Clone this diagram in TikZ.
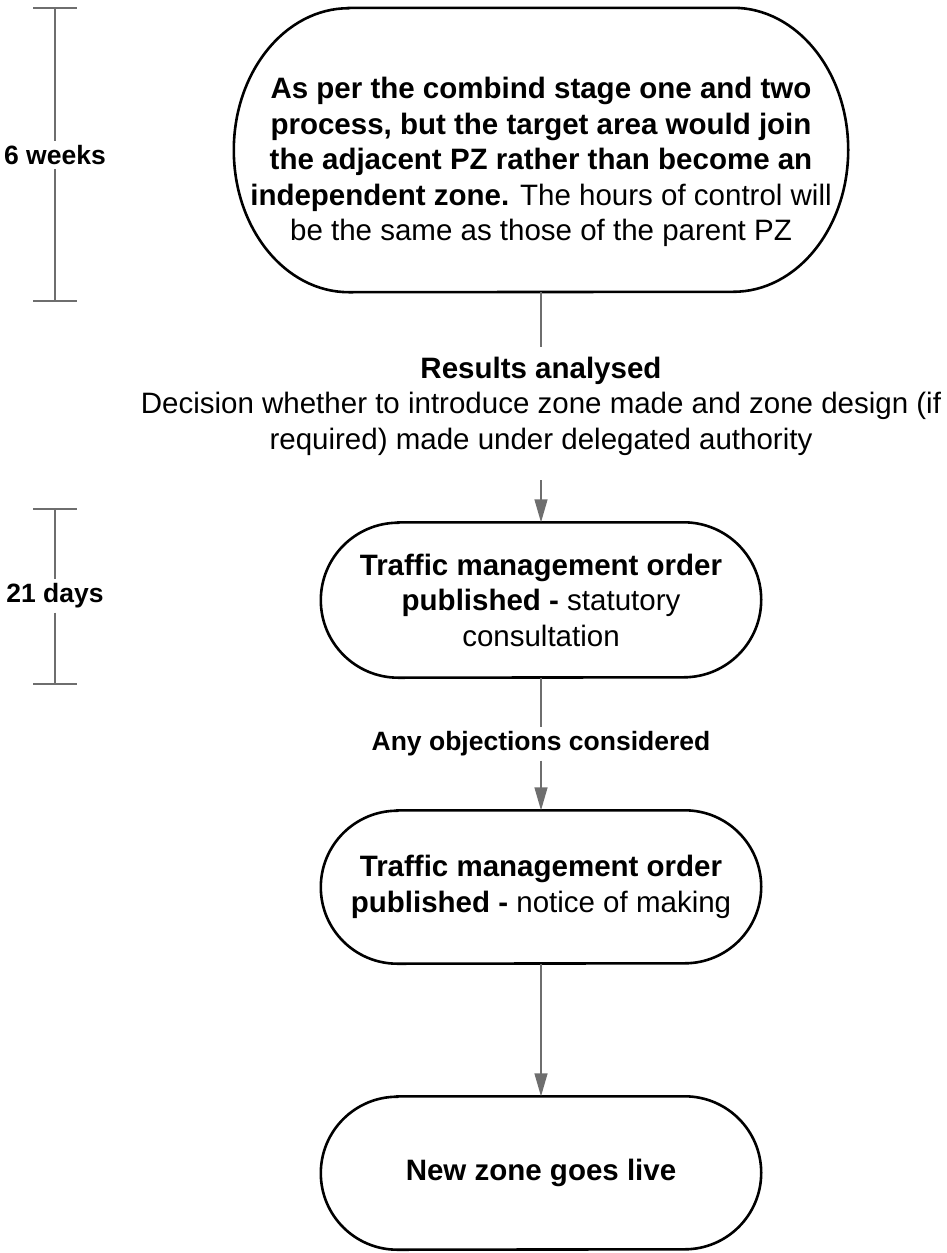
\documentclass[tikz,border=0pt]{standalone}
\usepackage{fontspec}
\setmainfont{Liberation Sans}
\usetikzlibrary{arrows.meta}
\definecolor{linegray}{HTML}{6E6E6E}
\newcommand{\termborder}[3]{%
  \draw[boxline] ([xshift=#2]#1.north west) -- ([xshift=-#2]#1.north east)
    arc[start angle=90,end angle=-90,x radius=#2,y radius=#3]
    -- ([xshift=#2]#1.south west)
    arc[start angle=270,end angle=90,x radius=#2,y radius=#3] -- cycle;}
\begin{document}
\begin{tikzpicture}[x=1pt,y=-1pt,
  boxline/.style={line width=2.6pt,draw=black},
  termfont/.style={font=\fontsize{29.5}{35.5}\selectfont},
  termnode/.style={draw=none,align=center,inner sep=0pt,termfont},
  lbl/.style={draw=none,align=center,inner xsep=0pt,inner ysep=4pt,
    font=\fontsize{26.5}{30}\selectfont\bfseries},
  conn/.style={line width=1.4pt,draw=linegray},
  arr/.style={conn,-{Triangle[length=23pt,width=13pt,fill=linegray]}},
  tline/.style={line width=1.4pt,draw=linegray}]
\useasboundingbox (0,0) rectangle (946,1253);

% timeline 6 weeks
\coordinate (w6a) at (55,8);
\coordinate (w6b) at (55,301);
\node[lbl] (w6) at (55,155) {6 weeks};
\draw[tline] (w6a) -- (w6.north);
\draw[tline] (w6.south) -- (w6b);
\draw[tline] ([xshift=-22pt]w6a) -- ([xshift=22pt]w6a);
\draw[tline] ([xshift=-22pt]w6b) -- ([xshift=22pt]w6b);

% timeline 21 days
\coordinate (d21a) at (55,509);
\coordinate (d21b) at (55,684);
\node[lbl] (d21) at (55,596) {21 days};
\draw[tline] (d21a) -- (d21.north);
\draw[tline] (d21.south) -- (d21b);
\draw[tline] ([xshift=-22pt]d21a) -- ([xshift=22pt]d21a);
\draw[tline] ([xshift=-22pt]d21b) -- ([xshift=22pt]d21b);

% boxes
\node[termnode, minimum width=614pt, minimum height=284pt,
  label={[termnode, yshift=-12pt]center:{%
   \textbf{As per the combind stage one and two}\\
   \textbf{process, but the target area would join}\\
   \textbf{the adjacent PZ rather than become an}\\
   \textbf{independent zone.} The hours of control will\\
   be the same as those of the parent PZ}}] (n1) at (541,150) {};
\termborder{n1}{115pt}{142pt}

\node[termnode] (res) at (541,406)
  {\textbf{Results analysed}\\
   Decision whether to introduce zone made and zone design (if\\
   required) made under delegated authority};

\node[termnode, minimum width=440pt, minimum height=155pt] (n2) at (541,600)
  {\textbf{Traffic management order}\\
   \textbf{published -} statutory\\
   consultation};
\termborder{n2}{77.5pt}{77.5pt}

\node[lbl] (obj) at (541,744) {Any objections considered};

\node[termnode, minimum width=440pt, minimum height=153pt] (n3) at (541,887)
  {\textbf{Traffic management order}\\
   \textbf{published -} notice of making};
\termborder{n3}{76.5pt}{76.5pt}

\node[termnode, minimum width=440pt, minimum height=153pt] (n4) at (541,1173)
  {\textbf{New zone goes live}};
\termborder{n4}{76.5pt}{76.5pt}

% connectors
\draw[conn] (n1.south) -- ([yshift=10pt]res.north);
\draw[arr] ([yshift=-25pt]res.south) -- (n2.north);
\draw[conn] (n2.south) -- (obj.north);
\draw[arr] (obj.south) -- (n3.north);
\draw[arr] (n3.south) -- (n4.north);
\end{tikzpicture}
\end{document}
